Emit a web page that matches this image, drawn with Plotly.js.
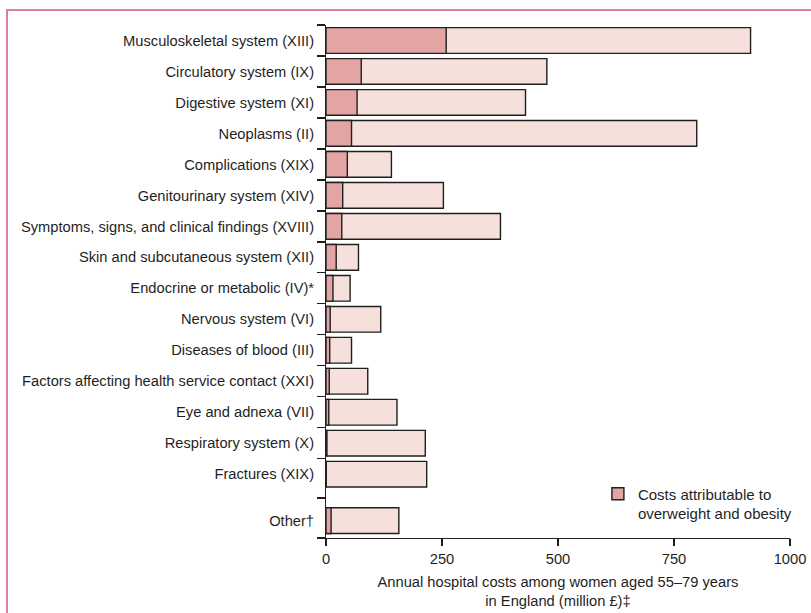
<!DOCTYPE html>
<html>
<head>
<meta charset="utf-8">
<script src="https://cdn.plot.ly/plotly-3.0.1.min.js"></script>
<style>
  html, body { margin: 0; padding: 0; background: #fff; overflow: hidden; }
  #wrap { position: relative; width: 811px; height: 613px; }
  #chart { position: absolute; left: 0; top: 0; width: 811px; height: 613px; }
  #frame { position: absolute; left: 6px; top: 9px; width: 900px; height: 700px;
           border-left: 2px solid #dd8099; border-top: 2px solid #dd8099; pointer-events: none; }
</style>
</head>
<body>
<div id="wrap">
  <div id="chart"></div>
  <div id="frame"></div>
</div>
<script>
const categories = [
  "Musculoskeletal system (XIII)",
  "Circulatory system (IX)",
  "Digestive system (XI)",
  "Neoplasms (II)",
  "Complications (XIX)",
  "Genitourinary system (XIV)",
  "Symptoms, signs, and clinical findings (XVIII)",
  "Skin and subcutaneous system (XII)",
  "Endocrine or metabolic (IV)*",
  "Nervous system (VI)",
  "Diseases of blood (III)",
  "Factors affecting health service contact (XXI)",
  "Eye and adnexa (VII)",
  "Respiratory system (X)",
  "Fractures (XIX)",
  "Other\u2020"
];
const totalCosts = [915, 476, 430, 799, 141, 253, 376, 70, 52, 118, 55, 90, 153, 214, 217, 157];
const attributableCosts = [259, 76, 67, 55, 46, 36, 34, 22, 15, 9, 8, 7, 6, 2, 0.5, 11];
const xTicks = [0, 250, 500, 750, 1000];
const legendLabel = "Costs attributable to<br>overweight and obesity";
const xTitle = "Annual hospital costs among women aged 55\u201379 years<br>in England (million \u00a3)\u2021";

// layout: "Other" sits half a row further down than the regular rows
const yPos = categories.map((c, i) => (i < categories.length - 1 ? i : i + 0.5));
const yRange = [16.06, -0.5];
const boundaryTicks = [];
for (let i = 0; i < categories.length - 1; i++) boundaryTicks.push(i - 0.5);
boundaryTicks.push(14.77, 16.06);

const FONT = '"Liberation Sans", Arial, sans-serif';
const INK = '#1f1f1f';
const FS = 14.7;

const traces = [
  {
    type: 'bar', orientation: 'h',
    x: totalCosts, y: yPos, width: 0.83,
    marker: { color: '#f5e0dc', line: { color: INK, width: 1.4 } },
    showlegend: false, hoverinfo: 'x'
  },
  {
    type: 'bar', orientation: 'h',
    x: attributableCosts, y: yPos, width: 0.83,
    name: legendLabel,
    marker: { color: '#e3a5a3', line: { color: INK, width: 1.4 } },
    showlegend: true, hoverinfo: 'x'
  },
  {
    type: 'scatter', x: [null], y: [null], yaxis: 'y2',
    showlegend: false, hoverinfo: 'skip'
  }
];

const layout = {
  width: 811, height: 613,
  margin: { l: 326, r: 21, t: 25, b: 75 },
  paper_bgcolor: 'rgba(0,0,0,0)', plot_bgcolor: 'rgba(0,0,0,0)',
  barmode: 'overlay',
  font: { family: FONT, size: FS, color: INK },
  xaxis: {
    range: [0, 1000], tickmode: 'array', tickvals: xTicks,
    ticks: 'outside', ticklen: 7, tickwidth: 1.3, tickcolor: INK,
    showline: true, linecolor: INK, linewidth: 1.3,
    showgrid: false, zeroline: false,
    tickfont: { family: FONT, size: FS, color: INK },
    title: { text: xTitle, font: { family: FONT, size: FS, color: INK }, standoff: 10 }
  },
  yaxis: {
    range: yRange, tickmode: 'array', tickvals: yPos, ticktext: categories,
    ticks: 'outside', ticklen: 8, tickcolor: 'rgba(0,0,0,0)',
    showline: false, showgrid: false, zeroline: false,
    tickfont: { family: FONT, size: FS, color: INK }
  },
  yaxis2: {
    overlaying: 'y', side: 'left', range: yRange,
    tickmode: 'array', tickvals: boundaryTicks,
    ticks: 'outside', ticklen: 8, tickwidth: 1.3, tickcolor: INK,
    showline: true, linecolor: INK, linewidth: 1.3,
    showticklabels: false, showgrid: false, zeroline: false
  },
  legend: {
    x: 0.586, y: 0.118, xanchor: 'left', yanchor: 'top',
    bgcolor: 'rgba(0,0,0,0)', valign: 'top',
    font: { family: FONT, size: 15, color: INK }
  },
  showlegend: true
};

Plotly.newPlot('chart', traces, layout, { displayModeBar: false, staticPlot: true });
</script>
</body>
</html>
